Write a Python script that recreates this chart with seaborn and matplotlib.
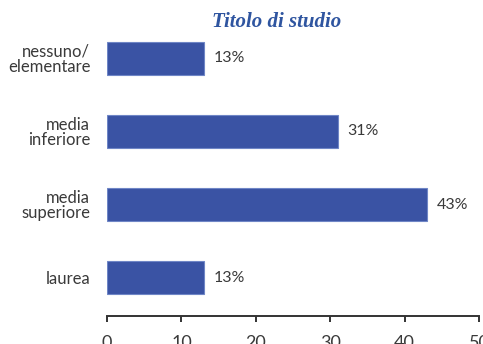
import matplotlib
matplotlib.use("Agg")
import matplotlib.pyplot as plt
import seaborn as sns
import pandas as pd

# Education level distribution (percent)
categories = ["nessuno/\nelementare", "media\ninferiore", "media\nsuperiore", "laurea"]
values = [13, 31, 43, 13]
value_labels = ["13%", "31%", "43%", "13%"]
x_ticks = [0, 10, 20, 30, 40, 50]

sns.set_theme(style="white")
plt.rcParams["font.family"] = ["Lato", "DejaVu Sans"]

df = pd.DataFrame({"titolo": categories, "percentuale": values})

fig = plt.figure(figsize=(4.83, 3.44), dpi=100)
ax = fig.add_axes([107 / 483, 1 - 316 / 344, 372 / 483, 286 / 344])

sns.barplot(data=df, y="titolo", x="percentuale", orient="h", ax=ax,
            color="#3a53a4", saturation=1, width=0.44,
            edgecolor="#6f86c6", linewidth=0.8)

for patch, lab in zip(ax.patches, value_labels):
    w = patch.get_width()
    yc = patch.get_y() + patch.get_height() / 2
    ax.annotate(lab, (w, yc), xytext=(7, 0), textcoords="offset points",
                ha="left", va="center", fontsize=11.5, color="#3a3a3a")

ax.set_xlim(0, 50)
ax.set_ylim(3.527, -0.39)
ax.set_xticks(x_ticks)
ax.set_xticklabels([str(t) for t in x_ticks])
ax.set_xlabel("")
ax.set_ylabel("")

for side in ["top", "right", "left"]:
    ax.spines[side].set_visible(False)
ax.spines["bottom"].set_color("#333333")
ax.spines["bottom"].set_linewidth(1.4)

ax.tick_params(axis="x", bottom=True, direction="out", length=4, width=1.4,
               color="#333333", labelsize=13, labelcolor="#3a3a3a", pad=10)
ax.tick_params(axis="y", left=False, labelsize=12, labelcolor="#3a3a3a", pad=6)
for t in ax.get_yticklabels():
    t.set_linespacing(0.95)

fig.text(277 / 483, 1 - 22 / 344, "Titolo di studio", ha="center", va="center",
         fontsize=15, fontstyle="italic", fontweight="bold",
         family=["Liberation Serif", "DejaVu Serif"], color="#2f55a0")

fig.savefig("out.png", dpi=100)
